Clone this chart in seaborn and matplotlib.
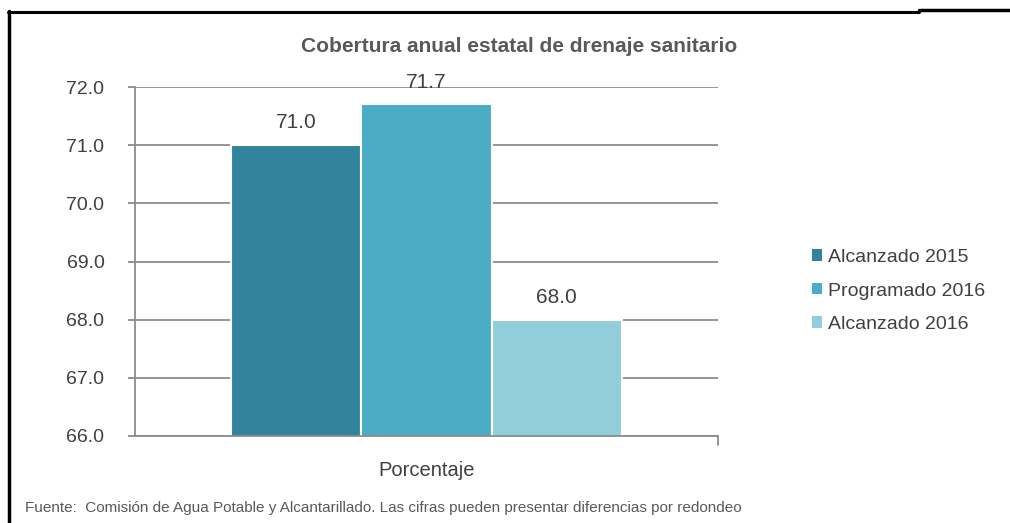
import numpy as np
import pandas as pd
import matplotlib
matplotlib.use("Agg")
import matplotlib.pyplot as plt
import seaborn as sns
from matplotlib.lines import Line2D
from matplotlib.patches import Patch

# data
categoria = ["Porcentaje"]
series = ["Alcanzado 2015", "Programado 2016", "Alcanzado 2016"]
valores = [71.0, 71.7, 68.0]
colores = ["#31849B", "#4BACC6", "#92CDDC"]
y_ticks = [66.0, 67.0, 68.0, 69.0, 70.0, 71.0, 72.0]

titulo = "Cobertura anual estatal de drenaje sanitario"
fuente = "Fuente:  Comisión de Agua Potable y Alcantarillado. Las cifras pueden presentar diferencias por redondeo"

df = pd.DataFrame({"categoria": categoria * len(series), "serie": series, "valor": valores})

sns.set_style("white")
plt.rcParams["font.family"] = ["Liberation Sans", "DejaVu Sans"]
txt = "#404040"
grid_c = "#8C8C8C"

fig = plt.figure(figsize=(10.1, 5.23), dpi=100)
ax = fig.add_axes([135 / 1010, 1 - 436 / 523, 583 / 1010, 349 / 523])

sns.barplot(data=df, x="categoria", y="valor", hue="serie", hue_order=series,
            palette=colores, width=0.67, ax=ax, legend=False,
            edgecolor="white", linewidth=1.5, saturation=1)

ax.set_ylim(66, 72)
ax.set_xlim(-0.5, 0.5)
ax.set_yticks(y_ticks)
ax.set_yticklabels([f"{v:.1f}" for v in y_ticks], fontsize=14, color=txt)
ax.yaxis.grid(True, color=grid_c, linewidth=1.3)
ax.set_axisbelow(True)
ax.tick_params(axis="y", length=5, color=grid_c, width=1.3, pad=17, left=True)
ax.tick_params(axis="x", length=0, labelsize=14.5, labelcolor=txt, pad=18)
ax.set_xlabel("")
ax.set_ylabel("")
for s in ["top", "right"]:
    ax.spines[s].set_visible(False)
for s in ["left", "bottom"]:
    ax.spines[s].set_color(grid_c)
    ax.spines[s].set_linewidth(1.3)
# small tick at the right end of the x axis
ax.plot([1.0, 1.0], [0, -0.025], transform=ax.transAxes, color=grid_c,
        linewidth=1.3, clip_on=False)

for bar, v in zip(ax.patches, valores):
    ax.annotate(f"{v:.1f}", (bar.get_x() + bar.get_width() / 2, v),
                xytext=(0, 16), textcoords="offset points",
                ha="center", va="center", fontsize=15, color=txt)

fig.text(519 / 1010, 1 - 46 / 523, titulo, ha="center", va="center",
         fontsize=15, fontweight="bold", color="#595959")

handles = [Patch(facecolor=c, edgecolor="none") for c in colores]
fig.legend(handles, series, loc="center left", bbox_to_anchor=(794 / 1010, 1 - 291 / 523),
           frameon=False, fontsize=14, labelcolor=txt, handlelength=0.55,
           handleheight=0.55, handletextpad=0.3, labelspacing=0.85)

fig.text(25 / 1010, 1 - 508 / 523, fuente, ha="left", va="center",
         fontsize=11, color="#595959")

# outer frame
fig.add_artist(Line2D([9 / 1010, 9 / 1010], [0, 1 - 11 / 523], transform=fig.transFigure,
                      color="black", linewidth=2.5))
fig.add_artist(Line2D([8 / 1010, 919 / 1010], [1 - 12 / 523, 1 - 12 / 523],
                      transform=fig.transFigure, color="black", linewidth=2.2))
fig.add_artist(Line2D([919 / 1010, 1], [1 - 10 / 523, 1 - 10 / 523],
                      transform=fig.transFigure, color="black", linewidth=2.5))

fig.savefig("out.png", dpi=100)
